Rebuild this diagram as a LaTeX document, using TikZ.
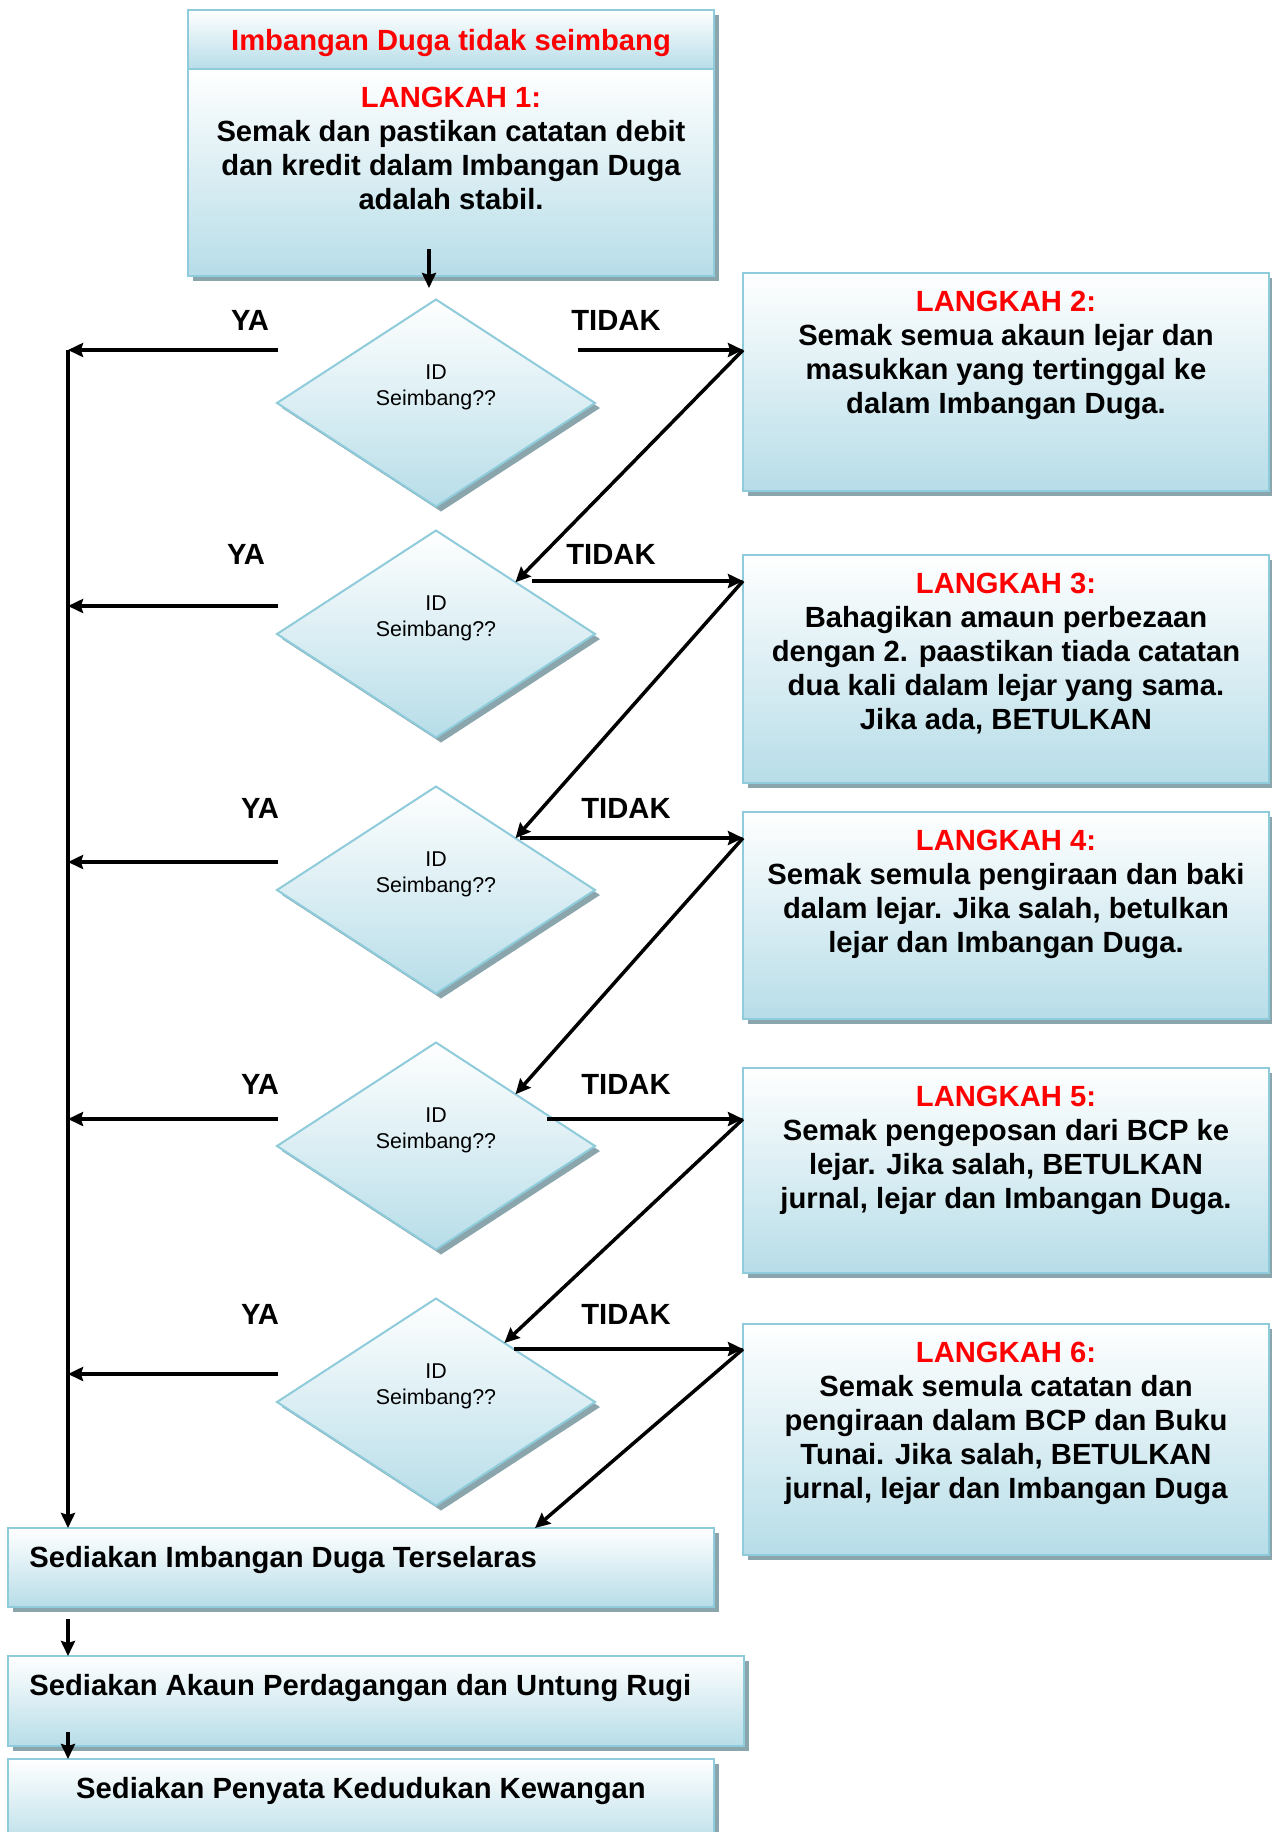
\documentclass[tikz,border=0pt]{standalone}
\usepackage{fontspec}
\setmainfont{Liberation Sans}
\usepackage{xcolor}
\usetikzlibrary{arrows.meta,shapes.geometric,shadows,positioning,calc}

\definecolor{boxblue}{RGB}{183,221,232}
\definecolor{boxline}{RGB}{142,203,219}
\definecolor{shadowgray}{RGB}{138,165,172}

\tikzset{
  stepbox/.style={draw=boxline, line width=1pt, top color=white, bottom color=boxblue,
    inner sep=0pt, outer sep=0pt,
    drop shadow={shadow xshift=2.5pt, shadow yshift=-2.5pt, fill=shadowgray, opacity=1}},
  decision/.style={stepbox, diamond, minimum width=159pt, minimum height=103.5pt},
  steptext/.style={inner sep=0pt, align=center, font=\fontsize{14.6pt}{17pt}\selectfont\bfseries},
  qtext/.style={inner sep=0pt, align=center, font=\fontsize{10.7pt}{12.85pt}\selectfont},
  arr/.style={line width=1.75pt, -{Stealth[length=7.5pt,width=7pt,inset=1pt]}}
}

\begin{document}
\begin{tikzpicture}[x=0.5pt,y=-0.5pt]
\useasboundingbox (0,0) rectangle (1271,1832);

\node[stepbox, steptext, text=red, text depth=0pt, minimum width=263pt, minimum height=29.5pt] (head) at (451,39.5) {Imbangan Duga tidak seimbang};
\node[stepbox, minimum width=263pt, minimum height=103.5pt] (b1) at (451,172.5) {};
\node[steptext, below=9pt of b1.north] (t1) {\textcolor{red}{LANGKAH 1:}\\Semak dan pastikan catatan debit\\dan kredit dalam Imbangan Duga\\adalah stabil.};

\node[stepbox, minimum width=263pt, minimum height=109pt] (b2) at (1006,382) {};
\node[steptext, below=9pt of b2.north] (t2) {\textcolor{red}{LANGKAH 2:}\\Semak semua akaun lejar dan\\masukkan yang tertinggal ke\\dalam Imbangan Duga.};

\node[stepbox, minimum width=263pt, minimum height=114pt] (b3) at (1006,669) {};
\node[steptext, below=9pt of b3.north] (t3) {\textcolor{red}{LANGKAH 3:}\\Bahagikan amaun perbezaan\\dengan 2. paastikan tiada catatan\\dua kali dalam lejar yang sama.\\Jika ada, BETULKAN};

\node[stepbox, minimum width=263pt, minimum height=103.5pt] (b4) at (1006,915.5) {};
\node[steptext, below=9pt of b4.north] (t4) {\textcolor{red}{LANGKAH 4:}\\Semak semula pengiraan dan baki\\dalam lejar. Jika salah, betulkan\\lejar dan Imbangan Duga.};

\node[stepbox, minimum width=263pt, minimum height=102.5pt] (b5) at (1006,1170.5) {};
\node[steptext, below=9pt of b5.north] (t5) {\textcolor{red}{LANGKAH 5:}\\Semak pengeposan dari BCP ke\\lejar. Jika salah, BETULKAN\\jurnal, lejar dan Imbangan Duga.};

\node[stepbox, minimum width=263pt, minimum height=115.5pt] (b6) at (1006,1439.5) {};
\node[steptext, below=9pt of b6.north] (t6) {\textcolor{red}{LANGKAH 6:}\\Semak semula catatan dan\\pengiraan dalam BCP dan Buku\\Tunai. Jika salah, BETULKAN\\jurnal, lejar dan Imbangan Duga};

\node[decision] (d1) at (436,403) {};
\node[decision] (d2) at (436,634) {};
\node[decision] (d3) at (436,890) {};
\node[decision] (d4) at (436,1146) {};
\node[decision] (d5) at (436,1402) {};
\node[qtext] (q1) at ([yshift=7.75pt]d1.center) {ID\\Seimbang??};
\node[qtext] (q2) at ([yshift=7.75pt]d2.center) {ID\\Seimbang??};
\node[qtext] (q3) at ([yshift=7.75pt]d3.center) {ID\\Seimbang??};
\node[qtext] (q4) at ([yshift=7.75pt]d4.center) {ID\\Seimbang??};
\node[qtext] (q5) at ([yshift=7.75pt]d5.center) {ID\\Seimbang??};

\node[stepbox, minimum width=353pt, minimum height=39.5pt] (bA) at (361,1567.5) {};
\node[steptext, below right=9pt and 10.5pt of bA.north west] (tA) {Sediakan Imbangan Duga Terselaras};
\node[stepbox, minimum width=368pt, minimum height=45pt] (bB) at (376,1701) {};
\node[steptext, below right=9pt and 10.5pt of bB.north west] (tB) {Sediakan Akaun Perdagangan dan Untung Rugi};
\node[stepbox, minimum width=353pt, minimum height=45.5pt] (bC) at (361,1804.5) {};
\node[steptext, below=9pt of bC.north] (tC) {Sediakan Penyata Kedudukan Kewangan};

\node[steptext] (ya1) at (250,320) {YA};
\node[steptext] (ya2) at (246,554) {YA};
\node[steptext] (ya3) at (260,808) {YA};
\node[steptext] (ya4) at (260,1084) {YA};
\node[steptext] (ya5) at (260,1314) {YA};
\node[steptext] (no1) at (616,320) {TIDAK};
\node[steptext] (no2) at (611,554) {TIDAK};
\node[steptext] (no3) at (626,808) {TIDAK};
\node[steptext] (no4) at (626,1084) {TIDAK};
\node[steptext] (no5) at (626,1314) {TIDAK};

\coordinate (spine) at (68,350);
\coordinate (y1) at (278,350);
\coordinate (y2) at (278,606);
\coordinate (y3) at (278,862);
\coordinate (y4) at (278,1119);
\coordinate (y5) at (278,1374);
\coordinate (n1) at (578,350);
\coordinate (n2) at (532,581);
\coordinate (n3) at (520,838);
\coordinate (n4) at (547,1119);
\coordinate (n5) at (514,1349);
\coordinate (s1) at (68,1619);
\coordinate (s2) at (68,1732);

\draw[arr] ([xshift=-11pt,yshift=13.5pt]b1.south) -- ([xshift=-11pt,yshift=-6pt]b1.south);

\draw[arr] (y1) -- (spine);
\draw[arr] (y2) -- (y2 -| spine);
\draw[arr] (y3) -- (y3 -| spine);
\draw[arr] (y4) -- (y4 -| spine);
\draw[arr] (y5) -- (y5 -| spine);
\draw[arr] (spine) -- (spine |- bA.north);

\draw[arr] (n1) -- (n1 -| b2.west);
\draw[arr] (n1 -| b2.west) -- ($(d2.north)!0.5!(d2.east)$);
\draw[arr] (n2) -- (n2 -| b3.west);
\draw[arr] (n2 -| b3.west) -- ($(d3.north)!0.5!(d3.east)$);
\draw[arr] (n3) -- (n3 -| b4.west);
\draw[arr] (n3 -| b4.west) -- ($(d4.north)!0.5!(d4.east)$);
\draw[arr] (n4) -- (n4 -| b5.west);
\draw[arr] (n4 -| b5.west) -- ($(d5.north)!0.43!(d5.east)$);
\draw[arr] (n5) -- (n5 -| b6.west);
\draw[arr] (n5 -| b6.west) -- ([xshift=87pt]bA.north);

\draw[arr] (s1) -- (s1 |- bB.north);
\draw[arr] (s2) -- (s2 |- bC.north);

\end{tikzpicture}
\end{document}
